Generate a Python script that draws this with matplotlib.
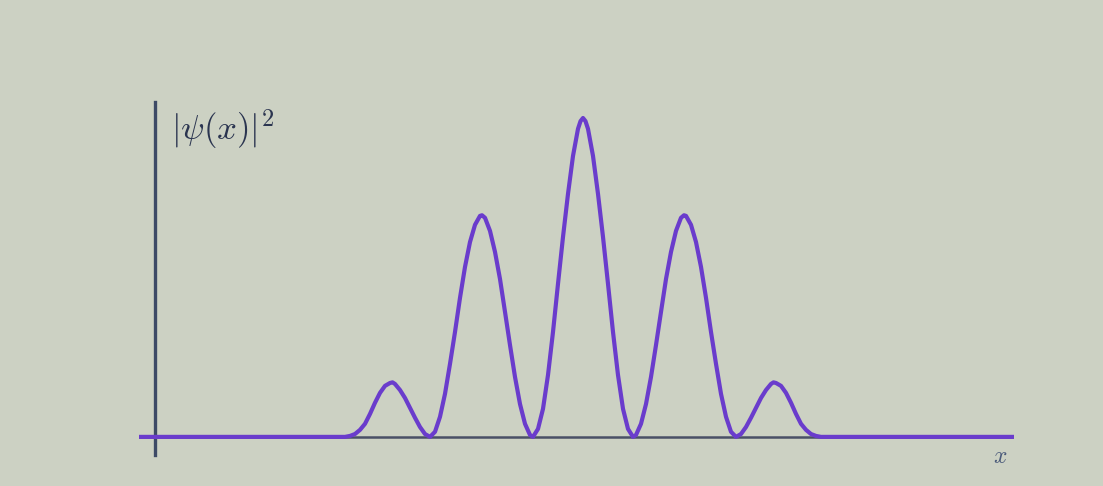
import matplotlib.pyplot as plt

plt.rcParams['mathtext.fontset'] = 'cm'

# probability density |psi(x)|^2 (peak normalised to 1)
x_vals = [-0.16,
          1.85, 1.90, 1.95, 2.00, 2.05, 2.10, 2.15, 2.20, 2.25, 2.30, 2.35, 2.375,
          2.40, 2.45, 2.50, 2.55, 2.60, 2.65, 2.70, 2.75,
          2.80, 2.85, 2.90, 2.95, 3.00, 3.05, 3.10, 3.15, 3.20, 3.25, 3.27,
          3.30, 3.35, 3.40, 3.45, 3.50, 3.55, 3.60, 3.65, 3.70, 3.75, 3.78,
          3.83, 3.88, 3.93, 3.98, 4.03, 4.08, 4.13, 4.18, 4.23, 4.255, 4.28,
          4.305, 4.33, 4.38, 4.43, 4.48, 4.53, 4.58, 4.63, 4.68, 4.73, 4.78,
          4.81, 4.86, 4.91, 4.96, 5.01, 5.06, 5.11, 5.16, 5.21, 5.26, 5.29,
          5.31, 5.36, 5.41, 5.46, 5.51, 5.56, 5.61, 5.66, 5.71, 5.76, 5.81,
          5.86, 5.91, 5.96, 6.01, 6.06, 6.11, 6.16, 6.185, 6.21, 6.26, 6.31,
          6.36, 6.41, 6.46, 6.51, 6.56, 6.61, 6.66, 6.71,
          8.59]
density = [0.0,
           0.0, 0.0, 0.003, 0.009, 0.022, 0.041, 0.072, 0.107, 0.138, 0.160, 0.169, 0.171,
           0.166, 0.147, 0.122, 0.091, 0.060, 0.031, 0.009, 0.0,
           0.016, 0.063, 0.135, 0.229, 0.329, 0.436, 0.533, 0.611, 0.665, 0.693, 0.695,
           0.687, 0.646, 0.580, 0.495, 0.392, 0.288, 0.188, 0.103, 0.041, 0.006, 0.0,
           0.025, 0.088, 0.194, 0.329, 0.480, 0.627, 0.762, 0.881, 0.966, 0.99, 1.0,
           0.99, 0.966, 0.881, 0.762, 0.627, 0.480, 0.329, 0.194, 0.088, 0.025, 0.0,
           0.006, 0.041, 0.103, 0.188, 0.288, 0.392, 0.495, 0.580, 0.646, 0.687, 0.695,
           0.693, 0.665, 0.611, 0.533, 0.436, 0.329, 0.229, 0.135, 0.063, 0.016, 0.0,
           0.009, 0.031, 0.060, 0.091, 0.122, 0.147, 0.166, 0.171, 0.169, 0.160,
           0.138, 0.107, 0.072, 0.041, 0.022, 0.009, 0.003, 0.0, 0.0,
           0.0]

bg = '#ccd1c3'
fig = plt.figure(figsize=(11.03, 4.86), dpi=100, facecolor=bg)
ax = fig.add_axes([0, 0, 1, 1])
ax.set_facecolor(bg)
ax.set_xlim(-1.55, 9.48)
ax.set_ylim(-0.154, 1.370)

# axes drawn through the origin
for side in ['top', 'right']:
    ax.spines[side].set_visible(False)
ax.spines['left'].set_position(('data', 0))
ax.spines['bottom'].set_position(('data', 0))
ax.spines['left'].set_bounds(-0.056, 1.05)
ax.spines['bottom'].set_bounds(-0.15, 8.55)
ax.spines['left'].set_color('#3d4a66')
ax.spines['left'].set_linewidth(2.4)
ax.spines['bottom'].set_color('#4a5066')
ax.spines['bottom'].set_linewidth(1.8)
ax.set_xticks([])
ax.set_yticks([])

ax.plot(x_vals, density, color='#6a3ccc', lw=3.0, solid_capstyle='butt',
        solid_joinstyle='round', zorder=3)

ax.text(0.16, 0.965, r'$|\psi(x)|^2$', fontsize=25, color='#2b3550',
        ha='left', va='center')
ax.text(8.45, -0.06, r'$x$', fontsize=17, color='#4a5a7a', ha='center', va='center')

fig.savefig('out.png', dpi=100, facecolor=fig.get_facecolor())
